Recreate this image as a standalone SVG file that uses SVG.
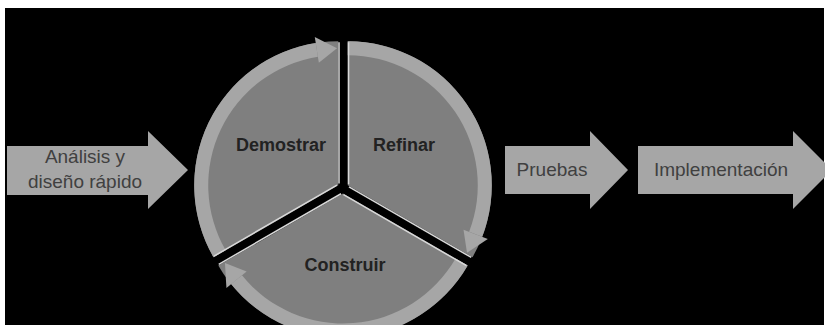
<svg xmlns="http://www.w3.org/2000/svg" xmlns:xlink="http://www.w3.org/1999/xlink" width="825" height="325" viewBox="0 0 825 325">
<style>
.bg{fill:#000}
.blk{fill:#a6a6a6}
.pie{fill:#7f7f7f}
.ring{fill:#a6a6a6}
.hl{fill:none;stroke:#d8d8d8;stroke-width:1.5}
.lbl{font-family:"Liberation Sans",Arial,sans-serif;font-size:19px;fill:#404040;text-anchor:middle}
.seg{font-family:"Liberation Sans",Arial,sans-serif;font-size:18px;font-weight:bold;fill:#222;text-anchor:middle}
</style>
<defs>
<g id="wedge">
<path class="pie" d="M0,0 L0,-144 A144,144 0 0 1 124.71,72 Z"/>
<path class="ring" d="M0,-144 A144,144 0 0 1 134.44,51.61 L121.37,46.59 A130,130 0 0 0 0,-130 Z"/>
<path class="ring" d="M140.04,53.76 L119.24,67.46 L115.76,44.44 Z"/>
<path class="hl" d="M0.8,-143 L0.8,-1 M1.2,1.6 L123.5,72.2"/>
</g>
</defs>
<rect x="0" y="0" width="825" height="325" fill="#fff"/>
<rect class="bg" x="5" y="8" width="819" height="317"/>
<g id="analisis">
<path class="blk" d="M7,146 L148,146 L148,131 L188,170 L148,209 L148,195 L7,195 Z"/>
<text class="lbl" x="85" y="163">Análisis y</text>
<text class="lbl" x="85" y="188">diseño rápido</text>
</g>
<g id="refinar">
<use xlink:href="#wedge" href="#wedge" transform="translate(347.76,185.25)"/>
<text class="seg" x="404" y="151">Refinar</text>
</g>
<g id="construir">
<use xlink:href="#wedge" href="#wedge" transform="translate(343,193.5) rotate(120)"/>
<text class="seg" x="345" y="271">Construir</text>
</g>
<g id="demostrar">
<use xlink:href="#wedge" href="#wedge" transform="translate(338.24,185.25) rotate(240)"/>
<text class="seg" x="281" y="151">Demostrar</text>
</g>
<g id="pruebas">
<path class="blk" d="M505,146 L590,146 L590,131 L628,170 L590,209 L590,194 L505,194 Z"/>
<text class="lbl" x="552" y="176">Pruebas</text>
</g>
<g id="implementacion">
<path class="blk" d="M638,146 L793,146 L793,131 L832,170 L793,209 L793,194 L638,194 Z"/>
<text class="lbl" x="721" y="176">Implementación</text>
</g>
<g id="connectors"/>
</svg>
